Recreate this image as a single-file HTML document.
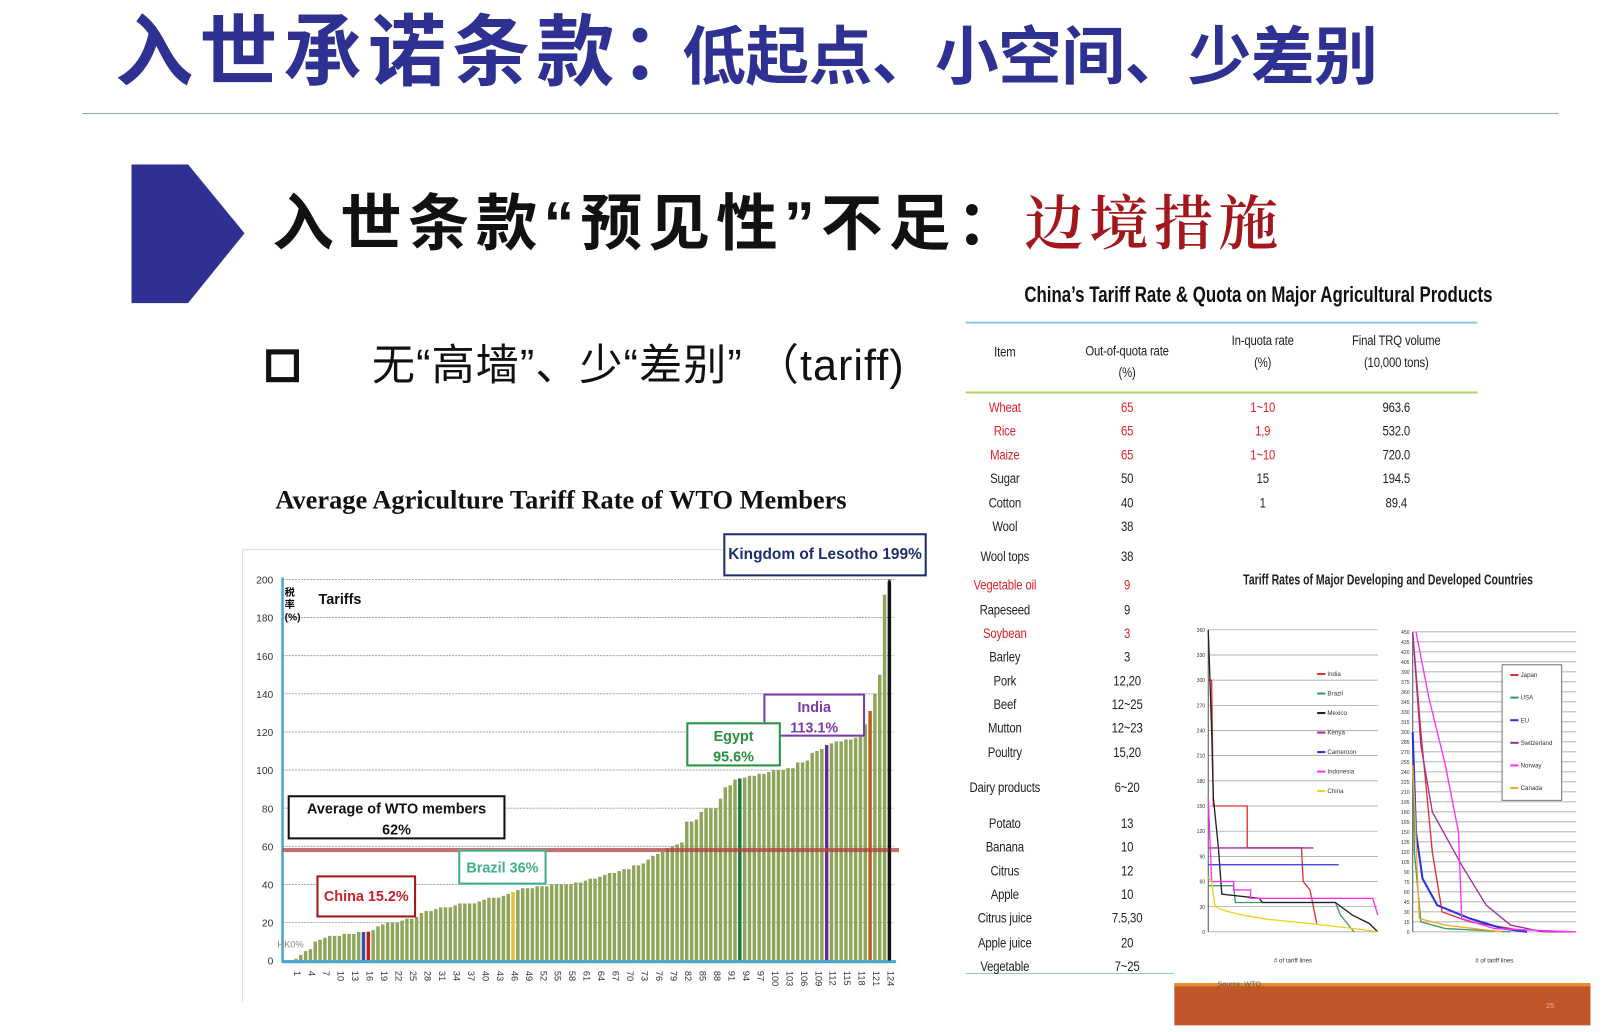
<!DOCTYPE html>
<html><head><meta charset="utf-8">
<style>
html,body{margin:0;padding:0;background:#fff;overflow:hidden}
#stage{position:absolute;left:0;top:0;width:1568px;height:1004px;transform:scale(1.02742);transform-origin:0 0;font-family:"Liberation Sans","Noto Sans CJK SC",sans-serif}
.abs{position:absolute;white-space:nowrap}
.cjk{font-family:"Liberation Sans","Noto Sans CJK SC",sans-serif}
.box{position:absolute;background:#fff;text-align:center;box-sizing:border-box;font-weight:bold}
.tb{position:absolute;font-size:13px;color:#222;text-align:center;transform:translateX(-50%) scaleX(0.85);white-space:nowrap;letter-spacing:-0.2px}
.red{color:#e0202a}
</style></head>
<body>
<div id="stage">
  <div class="abs cjk" style="left:112px;top:2px;color:#2e3192;font-weight:bold;line-height:100px">
    <span style="font-size:76px;letter-spacing:6px">入世承诺条款：</span><span style="font-size:62px;letter-spacing:-0.5px;margin-left:-22px">低起点、小空间、少差别</span>
  </div>
  <div class="abs" style="left:80px;top:110px;width:1437px;height:1px;background:#8fa3c8"></div>
  <svg class="abs" style="left:128px;top:160px" width="112" height="136"><polygon points="0,0 55,0 110,67 55,135 0,135" fill="#2e3192"/></svg>
  <div class="abs cjk" style="left:265px;top:178px;font-size:60px;font-weight:bold;color:#111;line-height:80px;letter-spacing:6px">入世条款“预见性”不足：<span style="font-family:'Liberation Serif','Noto Serif CJK SC',serif;color:#a3161b;font-weight:600;font-size:58px;letter-spacing:5px">边境措施</span></div>
  <div class="abs" style="left:259px;top:340px;width:22px;height:22px;border:5px solid #111"></div>
  <div class="abs cjk" style="left:362px;top:326px;font-size:42px;color:#111;line-height:60px;letter-spacing:1px">无“高墙”、少“差别” （tariff)</div>

  <div class="abs" style="left:268px;top:472px;font-family:'Liberation Serif',serif;font-weight:bold;font-size:25.7px;color:#111">Average Agriculture Tariff Rate of WTO Members</div>

  <svg id="chart" class="abs" style="left:0;top:0" width="1568" height="1004"></svg>

  <div class="box" style="left:704px;top:519px;width:198px;height:42px;border:2px solid #1f2f6e;color:#1f2f6e;font-size:15px;line-height:38px">Kingdom of Lesotho 199%</div>
  <div class="box" style="left:743px;top:675px;width:99px;height:42px;border:2px solid #7a3aa8;color:#7a3aa8;font-size:14px;line-height:20px;padding-top:1px">India<br>113.1%</div>
  <div class="box" style="left:668px;top:703px;width:92px;height:43px;border:2px solid #27923f;color:#27923f;font-size:14px;line-height:20px;padding-top:1px">Egypt<br>95.6%</div>
  <div class="box" style="left:280px;top:774px;width:212px;height:43px;border:2px solid #111;color:#111;font-size:14px;line-height:20px;padding-top:1px">Average of WTO members<br>62%</div>
  <div class="box" style="left:446px;top:827px;width:86px;height:34px;border:2px solid #3fb08a;color:#3fb08a;font-size:14px;line-height:30px">Brazil 36%</div>
  <div class="box" style="left:308px;top:852px;width:97px;height:41px;border:2px solid #a3161b;color:#c8202a;font-size:14px;line-height:37px">China 15.2%</div>
  <div class="abs" style="left:310px;top:575px;font-size:14px;font-weight:bold;color:#111">Tariffs</div>
  <div class="abs cjk" style="left:277px;top:572px;width:12px;font-size:10px;line-height:12px;white-space:normal;font-weight:bold">税率(%)</div>
  <div class="abs" style="left:270px;top:914px;font-size:9px;color:#888">HK0%</div>

  <div class="abs" style="left:997px;top:274px;font-size:22px;font-weight:bold;color:#111;transform:scaleX(0.745);transform-origin:0 0">China’s Tariff Rate &amp; Quota on Major Agricultural Products</div>
  <div class="abs" style="left:940px;top:313px;width:498px;height:2px;background:#8ecae0"></div>
  <div class="abs" style="left:940px;top:381px;width:498px;height:2px;background:#b5d36a"></div>
  <div class="abs" style="left:940px;top:947px;width:203px;height:1px;background:#8ecae0"></div>
  <div id="table"></div>

  <div class="abs" style="left:1210px;top:556px;font-size:14px;font-weight:bold;color:#222;transform:scaleX(0.73);transform-origin:0 0">Tariff Rates of Major Developing and Developed Countries</div>
  <div class="abs" style="left:1143px;top:957px;width:405px;height:38px;background:#c0562a;border-top:3px solid #e8892e"></div>
  <div class="abs" style="left:1185px;top:955px;font-size:7px;color:#555">Source: WTO</div>
  <div class="abs" style="left:1505px;top:976px;font-size:7px;color:#f0b090">25</div>
</div>
<script>
const tariffValues = [0,1,3,5,6,10,11,12,13,13,13,14,14,14,15,15,15.2,16,18,19,20,20,20,21,22,22,23,25,26,26,27,28,28,28,29,30,30,30,30,31,32,33,33,33,34,35,36,37,38,38,38,39,39,39,40,40,40,40,40,41,41,42,43,43,44,45,46,46,47,48,48,50,50,51,53,55,56,57,59,60,61,62,73,73,74,78,80,80,80,85,91,92,95,95.6,96,97,97,98,98,99,100,100,100,101,101,104,104,105,109,110,111,113.1,114,115,115,116,116,117,118,124,131,140,150,192,199];
const highlightIdx = [15,16,46,93,111,120,124];
const highlightColors = ['#2f4fa0','#c01818','#e8c040','#1a7a3a','#6a2a9a','#c05a20','#111'];
const yTicks = [0,20,40,60,80,100,120,140,160,180,200];
const averageValue = 58;
const devNames = ['India','Brazil','Mexico','Kenya','Cameroon','Indonesia','China'];
const devColors = ['#e03030','#3a9a6a','#222','#a0309a','#3030e0','#ff30ff','#f0d020'];
const devSeries = [
 [[0,300],[0.02,300],[0.03,150],[0.23,150],[0.23,100],[0.55,100],[0.56,60],[0.6,50],[0.64,10]],
 [[0,55],[0.15,55],[0.16,35],[0.75,35],[0.78,20],[0.86,0]],
 [[0,360],[0.02,240],[0.03,160],[0.06,100],[0.08,45],[0.3,40],[0.32,35],[0.75,35],[0.85,20],[0.95,10],[1,0]],
 [[0,100],[0.62,100]],
 [[0,80],[0.77,80]],
 [[0,160],[0.02,60],[0.15,60],[0.15,50],[0.25,50],[0.25,40],[0.97,40],[1,20]],
 [[0,65],[0.02,60],[0.04,30],[0.1,25],[0.2,20],[0.35,15],[0.6,10],[0.9,3],[1,0]]
];
const devYTicks = [0,30,60,90,120,150,180,210,240,270,300,330,360];
const dvdNames = ['Japan','USA','EU','Switzerland','Norway','Canada'];
const dvdColors = ['#e03030','#3a9a6a','#3030e0','#a0309a','#ff30ff','#f0b020'];
const dvdSeries = [
 [[0,450],[0.05,300],[0.12,120],[0.18,30],[0.35,15],[0.6,5],[0.7,0]],
 [[0,300],[0.01,120],[0.05,15],[0.2,5],[0.6,0]],
 [[0,300],[0.02,150],[0.06,80],[0.15,40],[0.35,20],[0.55,5],[0.7,0]],
 [[0,450],[0.05,280],[0.12,180],[0.3,100],[0.45,40],[0.6,10],[0.8,0],[1,0]],
 [[0.02,450],[0.1,350],[0.2,250],[0.28,150],[0.3,20],[0.5,5],[1,0]],
 [[0,250],[0.01,200],[0.04,20],[0.2,10],[0.55,0]]
];
const dvdYTicks = [0,15,30,45,60,75,90,105,120,135,150,165,180,195,210,225,240,255,270,285,300,315,330,345,360,375,390,405,420,435,450];
const tableItems = ['Wheat','Rice','Maize','Sugar','Cotton','Wool','Wool tops','Vegetable oil','Rapeseed','Soybean','Barley','Pork','Beef','Mutton','Poultry','Dairy products','Potato','Banana','Citrus','Apple','Citrus juice','Apple juice','Vegetable'];
const tableOut = ['65','65','65','50','40','38','38','9','9','3','3','12,20','12~25','12~23','15,20','6~20','13','10','12','10','7.5,30','20','7~25'];
const tableIn = ['1~10','1,9','1~10','15','1','','','','','','','','','','','','','','','','','',''];
const tableVol = ['963.6','532.0','720.0','194.5','89.4','','','','','','','','','','','','','','','','','',''];
const tableRed = [1,1,1,0,0,0,0,1,0,1,0,0,0,0,0,0,0,0,0,0,0,0,0];
const rowYs = [395,418,441,464,488,511,540,568,592,615,638,661,684,707,731,765,800,823,846,869,892,916,939];

const NS='http://www.w3.org/2000/svg';
const svg=document.getElementById('chart');
function mk(tag,attrs,parent){const e=document.createElementNS(NS,tag);for(const k in attrs)e.setAttribute(k,attrs[k]);(parent||svg).appendChild(e);return e;}

const X0=281,X1=868,Y0=935,Y1=564;
const xScale=i=>X0+(i+0.5)*(X1-X0)/tariffValues.length;
const yScale=v=>Y0-v*(Y0-Y1)/200;
const bw=(X1-X0)/tariffValues.length*0.72;

const frame=mk('polyline',{points:'236,975 236,535 706,535',fill:'none',stroke:'#ddd'});


yTicks.forEach(t=>{
  const g=mk('line',{x1:275,x2:870,y1:yScale(t),y2:yScale(t),stroke:'#999','stroke-dasharray':'2,1','stroke-width':0.8});
  
  
  const l=mk('text',{x:266,y:yScale(t)+4,'font-size':10,'text-anchor':'end',fill:'#333','font-family':'Liberation Sans'});
  l.textContent=t;
  
  
});
tariffValues.forEach((v,i)=>{
  const hi=highlightIdx.indexOf(i);
  const b=mk('rect',{x:xScale(i)-bw/2,y:yScale(v),width:bw,height:Y0-yScale(v),fill:hi>=0?highlightColors[hi]:'#8fa65a'});
  
  
  if(i%3===0){
    const t=mk('text',{x:0,y:0,'font-size':9,fill:'#333','font-family':'Liberation Sans',transform:`translate(${xScale(i)+3},${Y0+10}) rotate(90)`});
    t.textContent=i+1;
    
    
  }
});
const ax=mk('line',{x1:275,x2:275,y1:562,y2:937,stroke:'#4aa8d0','stroke-width':2.5});


const bx=mk('line',{x1:275,x2:872,y1:Y0+1,y2:Y0+1,stroke:'#4aa8d0','stroke-width':3});


const avg=mk('line',{x1:275,x2:875,y1:yScale(averageValue),y2:yScale(averageValue),stroke:'#b04040','stroke-width':4,opacity:0.75});


const les=mk('line',{x1:xScale(124),x2:xScale(124),y1:yScale(200),y2:Y0,stroke:'#111','stroke-width':2});



function smallChart(x0,x1,y0,y1,ymax,ticks,series,colors,names,name,legend){
  const sx=f=>x0+f*(x1-x0), sy=v=>y0-v*(y0-y1)/ymax;
  ticks.forEach(t=>{
    const g=mk('line',{x1:x0,x2:x1,y1:sy(t),y2:sy(t),stroke:'#999','stroke-width':0.7});
    
    
    const l=mk('text',{x:x0-3,y:sy(t)+2,'font-size':5,'text-anchor':'end',fill:'#333'});
    l.textContent=t;
    
    
  });
  const a=mk('line',{x1:x0,x2:x0,y1:y0,y2:y1,stroke:'#555','stroke-width':1});
  
  
  series.forEach((s,k)=>{
    const p=mk('polyline',{points:s.map(d=>sx(d[0])+','+sy(d[1])).join(' '),fill:'none',stroke:colors[k],'stroke-width':k==2&&name=='developed'?2:1.3});
    
    
  });
  if(legend.box){const r=mk('rect',{x:legend.x-8,y:legend.y-10,width:58,height:132,fill:'#fff',stroke:'#777'});
    
    }
  names.forEach((n,k)=>{
    const yy=legend.y+k*legend.dy;
    const l=mk('line',{x1:legend.x,x2:legend.x+8,y1:yy,y2:yy,stroke:colors[k],'stroke-width':2});
    
    
    const t=mk('text',{x:legend.x+10,y:yy+2,'font-size':6,fill:'#333'});
    t.textContent=n;
    
    
  });
  const xt=mk('text',{x:(x0+x1)/2,y:y0+30,'font-size':6,'text-anchor':'middle',fill:'#333'});
  xt.textContent='# of tariff lines';
  
  
}
smallChart(1176,1341,907,613,360,devYTicks,devSeries,devColors,devNames,'developing',{x:1282,y:656,dy:19,box:false});
smallChart(1375,1534,907,615,450,dvdYTicks,dvdSeries,dvdColors,dvdNames,'developed',{x:1470,y:657,dy:22,box:true});

const tb=document.getElementById('table');
function cell(txt,x,y,red,name){
  const d=document.createElement('div');
  d.className='tb'+(red?' red':'');
  d.style.left=x+'px';d.style.top=(y-9)+'px';
  d.innerHTML=txt;
  
  
  tb.appendChild(d);
}
cell('Item',978,341,0,'header-item');
cell('Out-of-quota rate<br>(%)',1097,340,0,'header-out-quota');
cell('In-quota rate<br>(%)',1229,330,0,'header-in-quota');
cell('Final TRQ volume<br>(10,000 tons)',1359,330,0,'header-volume');
tableItems.forEach((it,i)=>{
  const r=tableRed[i];
  cell(it,978,rowYs[i],r,'item-cell');
  cell(tableOut[i],1097,rowYs[i],r,'out-quota-cell');
  if(tableIn[i])cell(tableIn[i],1229,rowYs[i],r,'in-quota-cell');
  if(tableVol[i])cell(tableVol[i],1359,rowYs[i],0,'volume-cell');
});
document.querySelectorAll('.tb').forEach(e=>e.style.lineHeight='21px');
</script>
</body></html>
